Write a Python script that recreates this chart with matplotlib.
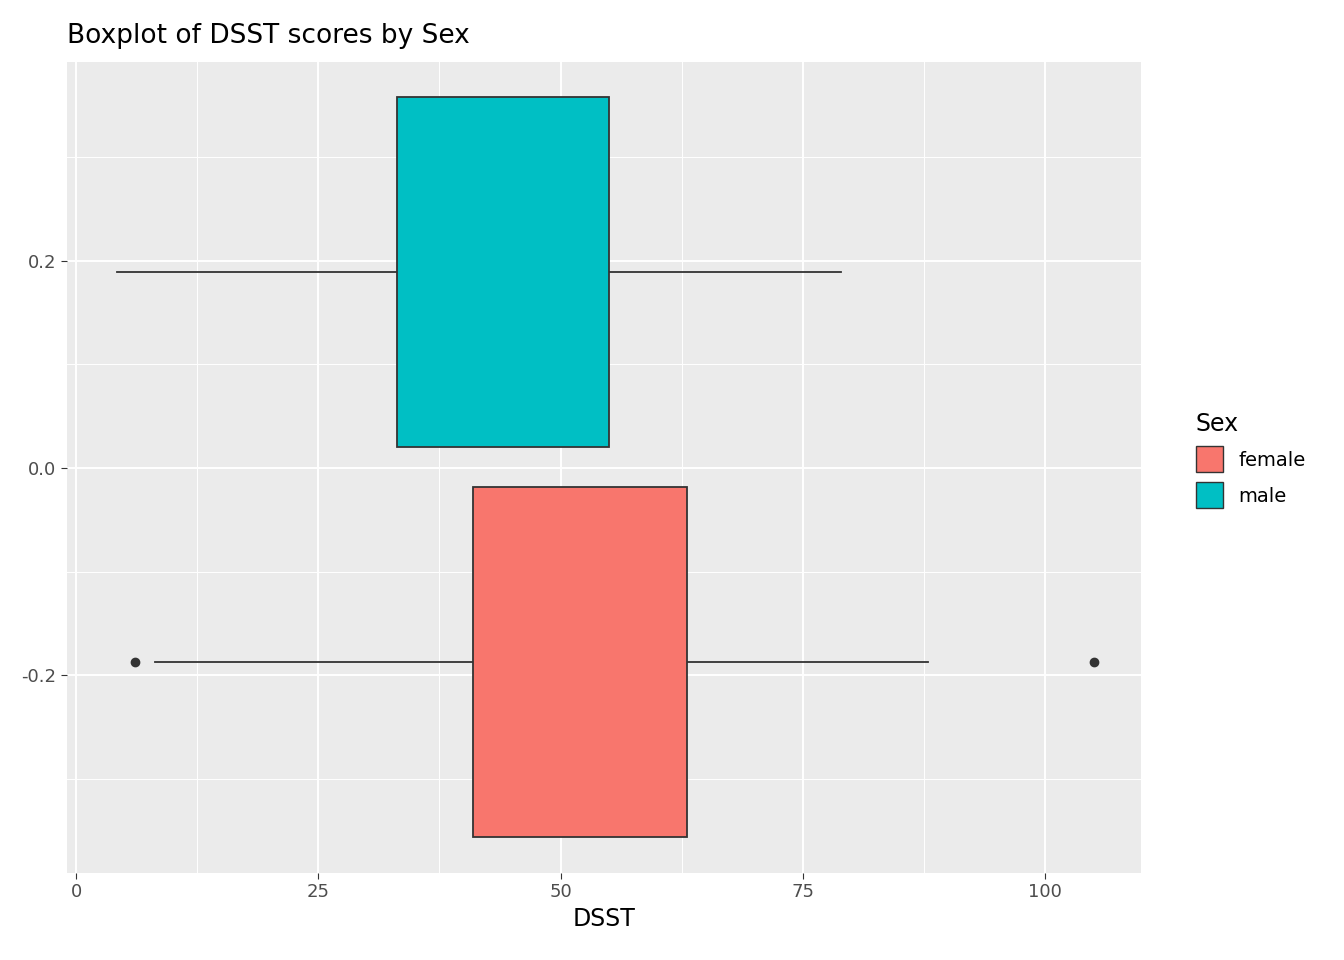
import matplotlib.pyplot as plt
from matplotlib.patches import Patch

groups = ["female", "male"]
colors = ["#F8766D", "#00BFC4"]
centers = [-0.187, 0.189]
q1 = [41.0, 33.1]
med = [51.1, 43.0]
q3 = [63.1, 55.0]
wlo = [8.2, 4.2]
whi = [87.9, 78.9]
outliers = [[6.1, 105.0], []]

fig = plt.figure(figsize=(13.44, 9.6), dpi=100)
ax = fig.add_axes([67/1344, 87/960, (1141-67)/1344, (873-62)/960])
ax.set_facecolor("#EBEBEB")

stats = []
for i in range(2):
    stats.append(dict(q1=q1[i], med=med[i], q3=q3[i], whislo=wlo[i], whishi=whi[i], fliers=outliers[i]))
b = ax.bxp(stats, positions=centers, widths=0.338, vert=False, patch_artist=True,
           showcaps=False, manage_ticks=False,
           boxprops=dict(edgecolor="#333333", linewidth=1.3),
           medianprops=dict(color="#333333", linewidth=4),
           whiskerprops=dict(color="#333333", linewidth=1.3),
           flierprops=dict(marker="o", markerfacecolor="#333333", markeredgecolor="#333333", markersize=6))
for p, c in zip(b["boxes"], colors):
    p.set_facecolor(c)
    p.set_zorder(3)

ax.set_xlim(-0.93, 109.9)
ax.set_ylim(-0.391, 0.392)
ax.set_xticks([0, 25, 50, 75, 100])
ax.set_xticks([12.5, 37.5, 62.5, 87.5], minor=True)
ax.set_yticks([-0.2, 0.0, 0.2])
ax.set_yticklabels(["-0.2", "0.0", "0.2"])
ax.set_yticks([-0.3, -0.1, 0.1, 0.3], minor=True)
ax.grid(True, which="major", color="white", linewidth=1.4)
ax.grid(True, which="minor", color="white", linewidth=0.7)
ax.set_axisbelow(True)
for s in ax.spines.values():
    s.set_visible(False)
ax.tick_params(which="major", colors="#333333", labelsize=13, length=4, labelcolor="#4D4D4D")
ax.tick_params(which="minor", length=0)
ax.set_xlabel("DSST", fontsize=17)
ax.set_title("Boxplot of DSST scores by Sex", fontsize=19, loc="left", x=0.0, pad=14)

handles = [Patch(facecolor=c, edgecolor="#333333") for c in colors]
leg = fig.legend(handles, groups, title="Sex", loc="upper left", bbox_to_anchor=(1178/1344, 1 - 395/960),
                 frameon=False, fontsize=14, title_fontsize=17, handlelength=1.4, handleheight=1.7,
                 alignment="left")
fig.savefig("out.png", dpi=100)
